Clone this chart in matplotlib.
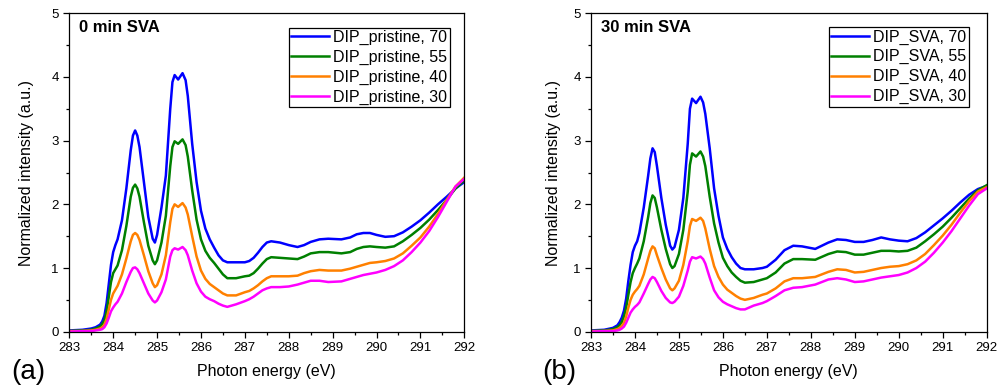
import matplotlib
matplotlib.use("Agg")
import matplotlib.pyplot as plt
from matplotlib.ticker import MultipleLocator

plt.rcParams['font.family'] = ['Liberation Sans', 'DejaVu Sans']

# ---------------- data: panel (a), 0 min SVA ----------------
energy_a = [283.0, 283.3, 283.5, 283.6, 283.7, 283.75, 283.8, 283.85, 283.9, 283.95,
            284.0, 284.05, 284.1, 284.2, 284.3, 284.4, 284.45, 284.5, 284.55, 284.6,
            284.7, 284.8, 284.9, 284.95, 285.0, 285.1, 285.2, 285.3, 285.35, 285.4,
            285.48, 285.58, 285.65, 285.7, 285.8, 285.9, 286.0, 286.1, 286.2, 286.3,
            286.4, 286.5, 286.6, 286.8, 287.0, 287.1, 287.2, 287.3, 287.4, 287.5,
            287.6, 287.8, 288.0, 288.2, 288.35, 288.5, 288.7, 288.9, 289.2, 289.4,
            289.55, 289.7, 289.85, 290.0, 290.2, 290.4, 290.6, 290.8, 291.0, 291.2,
            291.4, 291.6, 291.8, 292.0]

pristine_70 = [0.02, 0.03, 0.05, 0.07, 0.11, 0.16, 0.25, 0.45, 0.75, 1.05,
               1.25, 1.36, 1.45, 1.75, 2.25, 2.85, 3.08, 3.16, 3.08, 2.90,
               2.35, 1.80, 1.46, 1.40, 1.52, 1.95, 2.45, 3.50, 3.92, 4.03,
               3.96, 4.06, 3.95, 3.70, 2.95, 2.35, 1.90, 1.62, 1.45, 1.32,
               1.20, 1.12, 1.09, 1.09, 1.09, 1.11, 1.16, 1.24, 1.33, 1.40,
               1.42, 1.40, 1.36, 1.33, 1.36, 1.41, 1.45, 1.46, 1.45, 1.48,
               1.53, 1.55, 1.55, 1.52, 1.49, 1.50, 1.56, 1.65, 1.75, 1.87,
               2.00, 2.12, 2.25, 2.35]

pristine_55 = [0.01, 0.02, 0.03, 0.05, 0.08, 0.12, 0.18, 0.32, 0.55, 0.78,
               0.92, 0.98, 1.04, 1.28, 1.66, 2.12, 2.26, 2.31, 2.25, 2.12,
               1.72, 1.35, 1.12, 1.06, 1.12, 1.40, 1.82, 2.60, 2.90, 2.99,
               2.95, 3.02, 2.93, 2.75, 2.22, 1.76, 1.45, 1.27, 1.16, 1.08,
               0.99, 0.90, 0.84, 0.84, 0.87, 0.88, 0.92, 0.99, 1.07, 1.14,
               1.17, 1.16, 1.15, 1.14, 1.18, 1.23, 1.25, 1.25, 1.23, 1.25,
               1.30, 1.33, 1.34, 1.33, 1.32, 1.34, 1.42, 1.52, 1.63, 1.76,
               1.91, 2.07, 2.25, 2.38]

pristine_40 = [0.01, 0.01, 0.02, 0.03, 0.05, 0.07, 0.11, 0.20, 0.35, 0.50,
               0.60, 0.66, 0.72, 0.90, 1.15, 1.42, 1.52, 1.55, 1.52, 1.44,
               1.20, 0.95, 0.76, 0.70, 0.73, 0.90, 1.20, 1.72, 1.93, 2.00,
               1.96, 2.02, 1.95, 1.84, 1.50, 1.18, 0.96, 0.83, 0.75, 0.70,
               0.65, 0.60, 0.57, 0.57, 0.62, 0.64, 0.68, 0.73, 0.79, 0.84,
               0.87, 0.87, 0.87, 0.88, 0.92, 0.95, 0.97, 0.96, 0.96, 0.99,
               1.02, 1.05, 1.08, 1.09, 1.11, 1.15, 1.23, 1.35, 1.48, 1.65,
               1.85, 2.07, 2.28, 2.42]

pristine_30 = [0.00, 0.01, 0.01, 0.02, 0.03, 0.04, 0.07, 0.13, 0.22, 0.32,
               0.38, 0.43, 0.47, 0.60, 0.78, 0.94, 1.00, 1.01, 0.98, 0.92,
               0.76, 0.60, 0.49, 0.46, 0.49, 0.62, 0.82, 1.18, 1.28, 1.31,
               1.29, 1.33, 1.28, 1.20, 0.96, 0.76, 0.63, 0.55, 0.51, 0.48,
               0.44, 0.41, 0.39, 0.43, 0.48, 0.51, 0.55, 0.60, 0.65, 0.68,
               0.70, 0.70, 0.71, 0.74, 0.77, 0.80, 0.80, 0.78, 0.79, 0.83,
               0.86, 0.89, 0.91, 0.93, 0.97, 1.03, 1.12, 1.25, 1.40, 1.58,
               1.80, 2.04, 2.28, 2.40]

# ---------------- data: panel (b), 30 min SVA ----------------
energy_b = [283.0, 283.3, 283.5, 283.6, 283.65, 283.7, 283.75, 283.8, 283.85, 283.9,
            283.95, 284.0, 284.05, 284.1, 284.2, 284.3, 284.35, 284.4, 284.45, 284.5,
            284.6, 284.7, 284.8, 284.85, 284.9, 285.0, 285.1, 285.2, 285.25, 285.3,
            285.39, 285.49, 285.55, 285.6, 285.7, 285.8, 285.9, 286.0, 286.1, 286.2,
            286.3, 286.4, 286.5, 286.7, 286.9, 287.0, 287.2, 287.4, 287.6, 287.8,
            288.1, 288.4, 288.6, 288.8, 289.0, 289.2, 289.4, 289.6, 289.8, 290.0,
            290.2, 290.4, 290.6, 290.8, 291.0, 291.2, 291.4, 291.6, 291.8, 292.0]

sva_70 = [0.02, 0.03, 0.06, 0.10, 0.15, 0.22, 0.33, 0.52, 0.80, 1.05,
          1.25, 1.35, 1.42, 1.55, 1.95, 2.45, 2.72, 2.88, 2.82, 2.60,
          2.10, 1.68, 1.35, 1.29, 1.33, 1.60, 2.10, 2.95, 3.50, 3.66,
          3.59, 3.69, 3.60, 3.42, 2.88, 2.25, 1.82, 1.48, 1.30, 1.17,
          1.07, 1.00, 0.98, 0.98, 1.00, 1.02, 1.13, 1.28, 1.35, 1.34,
          1.30, 1.40, 1.45, 1.44, 1.41, 1.41, 1.44, 1.48, 1.45, 1.43,
          1.42, 1.47, 1.56, 1.67, 1.78, 1.90, 2.03, 2.15, 2.24, 2.29]

sva_55 = [0.01, 0.02, 0.04, 0.07, 0.10, 0.15, 0.24, 0.38, 0.58, 0.78,
          0.92, 1.00, 1.07, 1.15, 1.42, 1.80, 2.02, 2.14, 2.10, 1.95,
          1.60, 1.30, 1.06, 1.00, 1.03, 1.22, 1.60, 2.20, 2.62, 2.80,
          2.75, 2.83, 2.75, 2.60, 2.12, 1.70, 1.40, 1.16, 1.03, 0.93,
          0.86, 0.80, 0.77, 0.78, 0.82, 0.84, 0.93, 1.07, 1.14, 1.14,
          1.13, 1.22, 1.26, 1.25, 1.21, 1.21, 1.24, 1.27, 1.27, 1.26,
          1.27, 1.32, 1.42, 1.53, 1.65, 1.79, 1.94, 2.09, 2.22, 2.30]

sva_40 = [0.01, 0.01, 0.02, 0.04, 0.06, 0.09, 0.14, 0.24, 0.38, 0.50,
          0.58, 0.63, 0.67, 0.72, 0.90, 1.15, 1.27, 1.34, 1.31, 1.20,
          1.00, 0.82, 0.68, 0.65, 0.68, 0.80, 1.05, 1.42, 1.66, 1.77,
          1.74, 1.79, 1.74, 1.62, 1.30, 1.03, 0.86, 0.74, 0.66, 0.61,
          0.56, 0.52, 0.50, 0.53, 0.58, 0.60, 0.68, 0.79, 0.84, 0.84,
          0.86, 0.94, 0.98, 0.97, 0.93, 0.94, 0.97, 1.00, 1.02, 1.03,
          1.06, 1.12, 1.22, 1.36, 1.51, 1.68, 1.87, 2.05, 2.20, 2.27]

sva_30 = [0.00, 0.01, 0.01, 0.02, 0.03, 0.05, 0.08, 0.14, 0.22, 0.30,
          0.35, 0.39, 0.42, 0.46, 0.60, 0.75, 0.82, 0.86, 0.84, 0.78,
          0.64, 0.53, 0.46, 0.45, 0.47, 0.55, 0.72, 0.96, 1.10, 1.17,
          1.15, 1.18, 1.14, 1.07, 0.85, 0.65, 0.54, 0.47, 0.43, 0.40,
          0.37, 0.35, 0.35, 0.41, 0.45, 0.48, 0.56, 0.65, 0.69, 0.70,
          0.74, 0.82, 0.84, 0.82, 0.78, 0.79, 0.82, 0.85, 0.87, 0.89,
          0.93, 1.00, 1.10, 1.24, 1.40, 1.58, 1.78, 1.98, 2.16, 2.25]

labels_a = ["DIP_pristine, 70", "DIP_pristine, 55", "DIP_pristine, 40", "DIP_pristine, 30"]
labels_b = ["DIP_SVA, 70", "DIP_SVA, 55", "DIP_SVA, 40", "DIP_SVA, 30"]
titles = ["0 min SVA", "30 min SVA"]
panel_tags = ["(a)", "(b)"]
colors = ["#0000ff", "#008000", "#ff8000", "#ff00ff"]

W, H = 1000, 389
fig = plt.figure(figsize=(W / 100, H / 100), dpi=100)

def fx(px):
    return px / W

def fy(py):
    return 1 - py / H

panels = [
    dict(x0=69.3, x1=464.3, energy=energy_a, series=[pristine_70, pristine_55, pristine_40, pristine_30],
         labels=labels_a, leg=(450, 27.5), tag_x=11, ylab_x=34),
    dict(x0=591.0, x1=986.7, energy=energy_b, series=[sva_70, sva_55, sva_40, sva_30],
         labels=labels_b, leg=(969, 27.0), tag_x=542, ylab_x=561),
]
y_top, y_bot = 13.3, 331.7

for i, p in enumerate(panels):
    ax = fig.add_axes([fx(p['x0']), fy(y_bot), fx(p['x1'] - p['x0']), (y_bot - y_top) / H])
    for ys, c, lab in zip(p['series'], colors, p['labels']):
        ax.plot(p['energy'], ys, color=c, lw=1.8, label=lab, solid_joinstyle='round')
    ax.set_xlim(283, 292)
    ax.set_ylim(0, 5)
    ax.xaxis.set_major_locator(MultipleLocator(1))
    ax.xaxis.set_minor_locator(MultipleLocator(0.5))
    ax.yaxis.set_major_locator(MultipleLocator(1))
    ax.yaxis.set_minor_locator(MultipleLocator(0.5))
    ax.tick_params(which='both', direction='out', top=False, right=False, width=0.9, labelsize=9.5)
    ax.tick_params(which='major', length=4.5, pad=3)
    ax.tick_params(which='minor', length=2.5)
    for s in ax.spines.values():
        s.set_linewidth(0.9)
    ax.set_xlabel("Photon energy (eV)", fontsize=11.5, labelpad=7)
    ax.set_ylabel("Normalized intensity (a.u.)", fontsize=11.5)
    ax.yaxis.set_label_coords((p['ylab_x'] - p['x0']) / (p['x1'] - p['x0']), 0.5)
    ax.text(10 / (p['x1'] - p['x0']), 0.955, titles[i], transform=ax.transAxes,
            fontsize=12, fontweight='bold', ha='left', va='center')
    leg = ax.legend(loc='upper right', bbox_to_anchor=(fx(p['leg'][0]), fy(p['leg'][1])),
                    bbox_transform=fig.transFigure, borderaxespad=0, fontsize=11.5,
                    frameon=True, fancybox=False, framealpha=1, edgecolor='black',
                    handlelength=2.4, handletextpad=0.25, labelspacing=0.3,
                    borderpad=0.15)
    leg.get_frame().set_linewidth(0.9)
    fig.text(fx(p['tag_x']), fy(372), panel_tags[i], fontsize=20, ha='left', va='center')

fig.savefig("out.png", dpi=100)
